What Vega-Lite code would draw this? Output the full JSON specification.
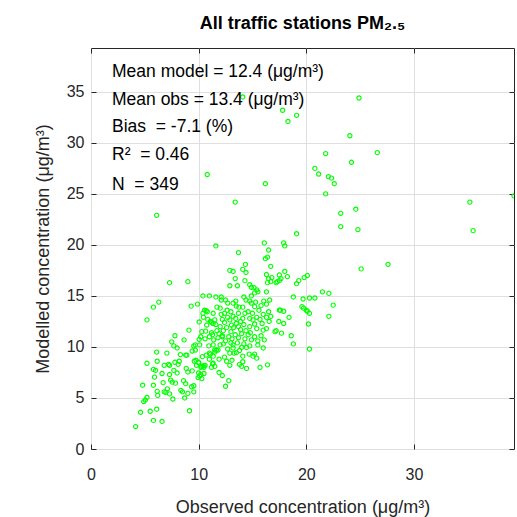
{
  "$schema": "https://vega.github.io/schema/vega-lite/v6.json",
  "width": 423,
  "height": 401,
  "autosize": "none",
  "padding": {"left": 91, "top": 48, "right": 3, "bottom": 68},
  "background": "white",
  "title": {"text": "All traffic stations PM₂.₅", "font": "Liberation Sans", "fontSize": 18, "fontWeight": "bold", "color": "#000000", "anchor": "middle", "offset": 15},
  "config": {
    "view": {"stroke": "#262626", "strokeWidth": 1},
    "axis": {
      "domain": false,
      "grid": true,
      "gridColor": "#dfdfdf",
      "gridWidth": 1,
      "tickColor": "#262626",
      "tickSize": -5,
      "labelFlush": false,
      "labelFont": "Liberation Sans",
      "labelFontSize": 16,
      "labelColor": "#262626",
      "titleFont": "Liberation Sans",
      "titleFontSize": 18,
      "titleFontWeight": "normal",
      "titleColor": "#262626"
    }
  },
  "layer": [
    {
      "data": {"values": [
{"x":14.1,"y":34.5},{"x":24.9,"y":34.4},{"x":17.8,"y":33.2},{"x":19.1,"y":32.7},{"x":18.3,"y":32.1},{"x":24.05,"y":30.7},{"x":21.8,"y":28.95},{"x":26.6,"y":29.05},{"x":24.2,"y":28.1},{"x":20.8,"y":27.5},
{"x":21.15,"y":26.95},{"x":10.8,"y":26.9},{"x":22.05,"y":26.7},{"x":22.35,"y":26.55},{"x":16.2,"y":26.0},{"x":22.6,"y":26.0},{"x":21.8,"y":25.0},{"x":13.4,"y":24.2},{"x":35.2,"y":24.2},{"x":39.3,"y":24.8},
{"x":6.1,"y":22.9},{"x":23.2,"y":23.1},{"x":24.6,"y":23.5},{"x":23.2,"y":21.8},{"x":24.8,"y":21.5},{"x":35.5,"y":21.4},{"x":19.1,"y":21.1},{"x":16.1,"y":20.2},{"x":17.9,"y":20.2},{"x":18.0,"y":19.9},
{"x":11.6,"y":19.9},{"x":16.5,"y":19.5},{"x":13.7,"y":19.25},{"x":16.4,"y":18.8},{"x":16.2,"y":18.65},{"x":27.6,"y":18.1},{"x":14.35,"y":18.1},{"x":16.7,"y":17.9},{"x":25.1,"y":17.65},{"x":14.1,"y":17.6},
{"x":14.4,"y":17.3},{"x":12.9,"y":17.5},{"x":13.2,"y":17.4},{"x":18.0,"y":17.4},{"x":17.5,"y":17.05},{"x":16.3,"y":17.1},{"x":16.8,"y":16.8},{"x":16.5,"y":16.7},{"x":18.25,"y":16.9},{"x":13.4,"y":16.7},
{"x":14.3,"y":16.5},{"x":19.3,"y":16.5},{"x":19.1,"y":16.2},{"x":17.2,"y":16.3},{"x":17.5,"y":16.5},{"x":16.4,"y":16.3},{"x":7.3,"y":16.3},{"x":9.0,"y":16.4},{"x":12.9,"y":16.0},{"x":13.6,"y":16.0},
{"x":14.75,"y":16.1},{"x":14.9,"y":15.85},{"x":15.15,"y":15.8},{"x":15.4,"y":15.6},{"x":19.8,"y":16.8},{"x":20.1,"y":17.0},{"x":16.3,"y":15.4},{"x":18.8,"y":14.9},{"x":19.7,"y":14.7},{"x":14.9,"y":15.0},
{"x":5.8,"y":13.9},{"x":6.3,"y":14.4},{"x":9.3,"y":14.0},{"x":9.9,"y":14.2},{"x":10.4,"y":15.0},{"x":11.0,"y":15.0},{"x":11.6,"y":14.9},{"x":12.1,"y":14.6},{"x":12.5,"y":14.6},{"x":12.7,"y":14.3},
{"x":13.45,"y":14.5},{"x":13.5,"y":14.0},{"x":14.2,"y":14.9},{"x":14.4,"y":14.6},{"x":16.05,"y":14.5},{"x":16.6,"y":14.6},{"x":15.8,"y":14.05},{"x":17.6,"y":13.6},{"x":17.9,"y":13.5},{"x":19.6,"y":13.95},
{"x":20.1,"y":13.5},{"x":20.3,"y":14.8},{"x":21.5,"y":15.4},{"x":22.1,"y":15.25},{"x":20.8,"y":14.8},{"x":22.5,"y":14.1},{"x":19.75,"y":13.8},{"x":20.3,"y":13.3},{"x":22.1,"y":13.0},{"x":20.2,"y":12.25},
{"x":20.3,"y":9.8},{"x":17.65,"y":16.7},{"x":17.3,"y":16.4},{"x":16.7,"y":16.4},{"x":15.5,"y":15.4},{"x":15.2,"y":15.3},{"x":12.1,"y":14.9},{"x":14.75,"y":14.5},{"x":14.9,"y":14.3},{"x":15.2,"y":13.95},
{"x":16.3,"y":14.2},{"x":13.2,"y":14.3},{"x":14.1,"y":13.9},{"x":13.75,"y":13.9},{"x":12.65,"y":13.6},{"x":12.4,"y":13.3},{"x":12.1,"y":13.2},{"x":10.55,"y":13.6},{"x":10.8,"y":13.45},{"x":10.45,"y":12.9},
{"x":10.85,"y":12.7},{"x":11.35,"y":13.3},{"x":11.5,"y":12.65},{"x":11.2,"y":12.4},{"x":13.0,"y":13.45},{"x":13.2,"y":13.0},{"x":13.45,"y":12.8},{"x":12.9,"y":12.65},{"x":13.05,"y":12.15},{"x":13.25,"y":11.9},
{"x":13.5,"y":12.3},{"x":13.9,"y":12.5},{"x":14.1,"y":12.8},{"x":14.3,"y":13.3},{"x":14.6,"y":13.45},{"x":14.75,"y":12.8},{"x":15.05,"y":12.65},{"x":15.4,"y":12.9},{"x":15.7,"y":12.7},{"x":15.9,"y":12.3},
{"x":15.2,"y":12.25},{"x":14.75,"y":12.0},{"x":15.4,"y":11.8},{"x":16.0,"y":11.65},{"x":16.3,"y":11.8},{"x":16.55,"y":12.5},{"x":16.7,"y":13.0},{"x":16.5,"y":13.45},{"x":17.5,"y":13.6},{"x":17.45,"y":12.5},
{"x":17.9,"y":12.3},{"x":18.6,"y":11.1},{"x":18.4,"y":12.9},{"x":20.0,"y":13.6},{"x":17.2,"y":11.6},{"x":17.7,"y":11.35},{"x":17.1,"y":11.5},{"x":18.8,"y":10.3},{"x":16.0,"y":9.9},{"x":15.2,"y":9.3},
{"x":15.4,"y":8.9},{"x":15.05,"y":9.1},{"x":14.7,"y":9.3},{"x":14.1,"y":9.1},{"x":13.5,"y":9.45},{"x":13.3,"y":9.4},{"x":13.8,"y":9.65},{"x":14.1,"y":8.55},{"x":14.45,"y":7.9},{"x":15.7,"y":8.0},
{"x":16.4,"y":8.25},{"x":13.1,"y":8.7},{"x":12.9,"y":8.2},{"x":13.8,"y":8.3},{"x":14.0,"y":8.1},{"x":11.35,"y":8.4},{"x":14.45,"y":9.95},{"x":14.75,"y":10.1},{"x":14.0,"y":9.95},{"x":13.2,"y":10.2},
{"x":12.0,"y":10.2},{"x":11.65,"y":9.7},{"x":11.0,"y":9.4},{"x":11.35,"y":9.1},{"x":10.7,"y":9.2},{"x":10.35,"y":9.05},{"x":10.25,"y":8.1},{"x":10.5,"y":8.0},{"x":11.9,"y":7.5},{"x":12.2,"y":7.2},
{"x":12.8,"y":6.7},{"x":12.5,"y":6.15},{"x":9.95,"y":7.0},{"x":10.2,"y":7.3},{"x":10.5,"y":7.4},{"x":10.3,"y":6.9},{"x":9.75,"y":8.7},{"x":10.0,"y":8.45},{"x":10.4,"y":8.1},{"x":10.6,"y":8.2},
{"x":11.0,"y":8.8},{"x":11.3,"y":8.35},{"x":11.2,"y":8.0},{"x":11.5,"y":8.1},{"x":9.7,"y":10.2},{"x":10.95,"y":10.1},{"x":11.35,"y":10.2},{"x":11.5,"y":9.7},{"x":11.8,"y":9.7},{"x":11.1,"y":9.3},
{"x":11.5,"y":9.5},{"x":10.3,"y":11.5},{"x":10.65,"y":11.55},{"x":11.2,"y":11.4},{"x":11.3,"y":11.2},{"x":11.7,"y":11.6},{"x":11.9,"y":11.3},{"x":10.05,"y":12.45},{"x":10.4,"y":13.3},{"x":10.7,"y":13.55},
{"x":10.75,"y":12.15},{"x":11.1,"y":12.5},{"x":11.35,"y":12.3},{"x":11.6,"y":12.2},{"x":5.2,"y":12.65},{"x":9.1,"y":11.65},{"x":7.8,"y":11.1},{"x":7.5,"y":10.5},{"x":7.7,"y":10.1},{"x":8.0,"y":9.9},
{"x":8.65,"y":10.7},{"x":10.05,"y":10.75},{"x":10.1,"y":10.2},{"x":9.55,"y":10.1},{"x":9.7,"y":9.7},{"x":9.4,"y":9.6},{"x":6.1,"y":9.5},{"x":7.05,"y":9.4},{"x":8.3,"y":9.25},{"x":8.8,"y":9.2},
{"x":8.9,"y":9.2},{"x":5.2,"y":8.4},{"x":6.15,"y":8.6},{"x":6.8,"y":8.2},{"x":7.2,"y":8.3},{"x":7.3,"y":8.2},{"x":7.8,"y":8.5},{"x":8.2,"y":8.6},{"x":8.1,"y":8.3},{"x":9.6,"y":8.6},
{"x":9.8,"y":8.2},{"x":10.0,"y":8.5},{"x":10.2,"y":8.0},{"x":10.5,"y":8.2},{"x":5.8,"y":7.8},{"x":6.0,"y":7.7},{"x":6.6,"y":7.4},{"x":7.3,"y":7.3},{"x":7.7,"y":7.7},{"x":8.0,"y":7.45},
{"x":8.85,"y":7.9},{"x":9.0,"y":7.55},{"x":9.4,"y":7.65},{"x":10.0,"y":7.45},{"x":10.1,"y":7.15},{"x":5.9,"y":7.05},{"x":6.7,"y":6.5},{"x":7.4,"y":6.75},{"x":7.55,"y":6.55},{"x":7.85,"y":6.45},
{"x":8.6,"y":6.7},{"x":8.8,"y":6.4},{"x":9.55,"y":6.2},{"x":9.35,"y":6.1},{"x":4.8,"y":6.25},{"x":5.8,"y":6.25},{"x":6.15,"y":5.65},{"x":6.2,"y":5.25},{"x":6.8,"y":5.6},{"x":6.95,"y":5.55},
{"x":7.1,"y":5.9},{"x":7.3,"y":5.4},{"x":7.6,"y":4.9},{"x":8.35,"y":5.75},{"x":8.5,"y":5.6},{"x":8.7,"y":5.0},{"x":9.0,"y":5.45},{"x":9.55,"y":5.6},{"x":5.2,"y":5.05},{"x":5.05,"y":4.8},
{"x":4.9,"y":4.65},{"x":4.6,"y":3.6},{"x":5.5,"y":3.7},{"x":6.1,"y":3.9},{"x":9.15,"y":3.75},{"x":5.8,"y":2.8},{"x":6.6,"y":2.7},{"x":4.15,"y":2.2},{"x":10.2,"y":11.0},{"x":10.6,"y":10.8},
{"x":11.0,"y":11.0},{"x":11.4,"y":10.7},{"x":11.8,"y":10.9},{"x":12.2,"y":11.1},{"x":12.5,"y":10.6},{"x":12.8,"y":11.0},{"x":13.1,"y":10.8},{"x":13.4,"y":11.2},{"x":13.7,"y":10.9},{"x":14.0,"y":11.3},
{"x":14.3,"y":10.8},{"x":14.6,"y":11.2},{"x":14.9,"y":10.7},{"x":15.2,"y":11.0},{"x":15.5,"y":10.6},{"x":15.8,"y":11.1},{"x":16.1,"y":10.7},{"x":12.3,"y":11.6},{"x":12.6,"y":11.9},{"x":13.0,"y":11.5},
{"x":13.9,"y":11.7},{"x":14.4,"y":11.6},{"x":14.8,"y":11.4},{"x":12.0,"y":12.0},{"x":12.4,"y":12.4},{"x":13.7,"y":12.0},{"x":14.2,"y":12.2},{"x":12.7,"y":12.9},{"x":12.2,"y":12.7},{"x":13.0,"y":10.4},
{"x":12.3,"y":10.3},{"x":13.6,"y":10.4},{"x":14.2,"y":10.3},{"x":15.5,"y":10.2},{"x":12.7,"y":9.8},{"x":12.9,"y":9.4},{"x":12.4,"y":9.0},{"x":13.2,"y":9.9},{"x":11.9,"y":8.8},{"x":12.6,"y":8.6},
{"x":15.0,"y":13.3},{"x":15.6,"y":13.6},{"x":16.0,"y":13.2},{"x":16.3,"y":12.9},{"x":12.0,"y":13.8},{"x":11.7,"y":13.9},{"x":13.7,"y":13.3},{"x":15.3,"y":14.4},{"x":12.2,"y":11.0}
      ]},
      "mark": {"type": "point", "shape": "circle", "filled": false, "color": "#00ff00", "size": 18, "strokeWidth": 1.1, "opacity": 1, "clip": true},
      "encoding": {
        "x": {"field": "x", "type": "quantitative", "scale": {"domain": [0, 39.3], "nice": false, "zero": false},
              "axis": {"orient": "bottom", "values": [0, 10, 20, 30], "labelPadding": 22, "title": "Observed concentration (μg/m³)", "titlePadding": 16}},
        "y": {"field": "y", "type": "quantitative", "scale": {"domain": [0, 39.3], "nice": false, "zero": false},
              "axis": {"orient": "left", "values": [0, 5, 10, 15, 20, 25, 30, 35], "labelPadding": 12, "title": "Modelled concentration (μg/m³)", "titlePadding": 14}}
      }
    },
    {
      "data": {"values": [
        {"t": "Mean model = 12.4 (μg/m³)", "x": 1.95, "y": 36.9},
        {"t": "Mean obs = 13.4 (μg/m³)", "x": 1.95, "y": 34.2},
        {"t": "Bias \u00a0= -7.1 (%)", "x": 1.95, "y": 31.6},
        {"t": "R² \u00a0= 0.46", "x": 1.95, "y": 28.8},
        {"t": "N \u00a0= 349", "x": 1.95, "y": 25.9}
      ]},
      "mark": {"type": "text", "align": "left", "baseline": "middle", "font": "Liberation Sans", "fontSize": 17.5, "color": "#000000"},
      "encoding": {
        "x": {"field": "x", "type": "quantitative", "scale": {"domain": [0, 39.3], "nice": false, "zero": false},
              "axis": {"orient": "top", "values": [0, 10, 20, 30], "labels": false, "grid": false, "title": null}},
        "y": {"field": "y", "type": "quantitative", "scale": {"domain": [0, 39.3], "nice": false, "zero": false},
              "axis": {"orient": "right", "values": [0, 5, 10, 15, 20, 25, 30, 35], "labels": false, "grid": false, "title": null}},
        "text": {"field": "t"}
      }
    }
  ],
  "resolve": {"axis": {"x": "independent", "y": "independent"}}
}
